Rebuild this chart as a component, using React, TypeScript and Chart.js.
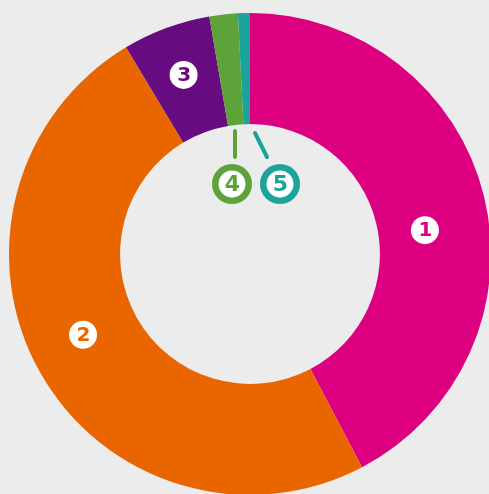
import React, { useEffect, useRef } from "react";
import { Chart, registerables } from "chart.js";

Chart.register(...registerables);

const categories = ["1", "2", "3", "4", "5"];
const values = [42.3, 49.1, 5.9, 1.9, 0.8];
const colors = ["#dc0080", "#e96500", "#670c80", "#5ea33a", "#1ca39b"];
const BG = "#ececec";

const labelPlugin = {
  id: "circleLabels",
  afterDatasetsDraw(chart: any) {
    const ctx = chart.ctx;
    const meta = chart.getDatasetMeta(0);
    const arcs = meta.data;
    const cx = arcs[0].x;
    const cy = arcs[0].y;
    const inner = arcs[0].innerRadius;
    const outer = arcs[0].outerRadius;

    const drawBadge = (x: number, y: number, text: string, color: string, ring: boolean, size: number) => {
      ctx.save();
      if (ring) {
        ctx.beginPath();
        ctx.arc(x, y, 20, 0, Math.PI * 2);
        ctx.fillStyle = color;
        ctx.fill();
      }
      ctx.beginPath();
      ctx.arc(x, y, ring ? 13.5 : 14, 0, Math.PI * 2);
      ctx.fillStyle = "#ffffff";
      ctx.fill();
      ctx.fillStyle = color;
      ctx.font = `bold ${size}px 'DejaVu Sans'`;
      ctx.textAlign = "center";
      ctx.textBaseline = "middle";
      ctx.fillText(text, x + 0.5, y + 1);
      ctx.restore();
    };

    // inside labels for the large slices
    const inside = [
      { i: 0, frac: 0.54, rf: 0.42 },
      { i: 1, frac: 0.52, rf: 0.5 },
      { i: 2, frac: 0.5, rf: 0.55 },
    ];
    inside.forEach(({ i, frac, rf }) => {
      const a: any = arcs[i];
      const ang = a.startAngle + (a.endAngle - a.startAngle) * frac;
      const r = inner + (outer - inner) * rf;
      drawBadge(cx + Math.cos(ang) * r, cy + Math.sin(ang) * r, categories[i], colors[i], false, 20);
    });

    // outside labels with leader lines
    const outside = [
      { i: 3, sx: -15, sy: -123, ex: -15, ey: -97, bx: -18, by: -70 },
      { i: 4, sx: 5, sy: -121, ex: 17, ey: -97, bx: 30, by: -70 },
    ];
    outside.forEach(({ i, sx, sy, ex, ey, bx, by }) => {
      ctx.save();
      ctx.strokeStyle = colors[i];
      ctx.lineWidth = 4;
      ctx.lineCap = "round";
      ctx.beginPath();
      ctx.moveTo(cx + sx, cy + sy);
      ctx.lineTo(cx + ex, cy + ey);
      ctx.stroke();
      ctx.restore();
      drawBadge(cx + bx, cy + by, categories[i], colors[i], true, 22);
    });
  },
};

export default function App() {
  const ref = useRef<HTMLCanvasElement>(null);
  useEffect(() => {
    if (!ref.current) return;
    const chart = new Chart(ref.current, {
      type: "doughnut",
      data: {
        labels: categories,
        datasets: [
          {
            data: values,
            backgroundColor: colors,
            borderWidth: 0,
          },
        ],
      },
      options: {
        responsive: false,
        animation: false,
        radius: 241,
        cutout: "53.9%",
        layout: { padding: 0 },
        plugins: {
          legend: { display: false },
          tooltip: { enabled: false },
        },
      },
      plugins: [labelPlugin],
    });
    return () => chart.destroy();
  }, []);
  return (
    <div
      style={{
        position: "fixed",
        left: 0,
        top: 0,
        width: 489,
        height: 494,
        overflow: "hidden",
        background: BG,
      }}
    >
      <canvas
        ref={ref}
        width={500}
        height={508}
        style={{ position: "absolute", left: 0, top: 0, width: 500, height: 508 }}
      />
    </div>
  );
}
